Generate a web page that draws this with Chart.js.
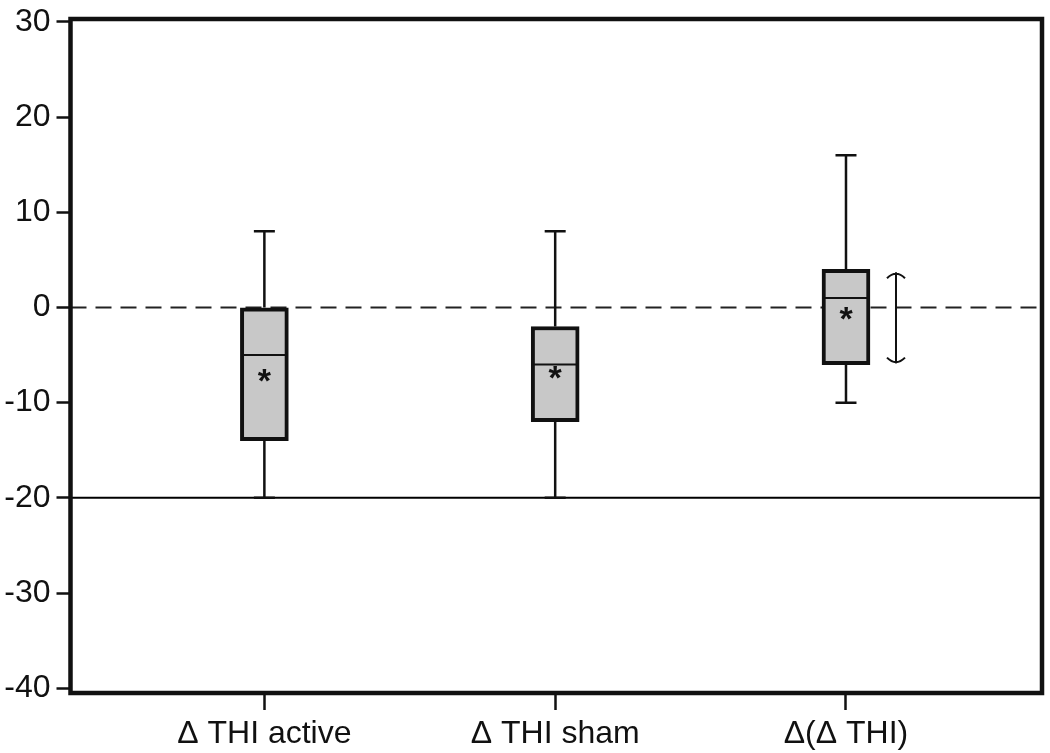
<!DOCTYPE html>
<html><head><meta charset="utf-8">
<script src="https://cdn.jsdelivr.net/npm/chart.js@4"></script>
<style>html,body{margin:0;padding:0;background:#fff}#wrap{width:1050px;height:753px;position:relative}</style>
</head><body><div id="wrap"><canvas id="c"></canvas></div>
<script>
const categories = ['\u0394 THI active', '\u0394 THI sham', '\u0394(\u0394 THI)'];
const positions = [1, 2, 3];
const whiskerLow = [-20, -20, -10];
const q1 = [-14, -12, -6];
const median = [-5, -6, 1];
const q3 = [0, -2, 4];
const whiskerHigh = [8, 8, 16];
const means = [-7.1, -6.8, -0.6];
const ciLow = [null, null, -5.9];
const ciHigh = [null, null, 3.7];
const yTicks = [-40, -30, -20, -10, 0, 10, 20, 30];
const xTicks = [1, 2, 3];
const refDashed = 0;
const refSolid = -20;

const boxPlugin = {
  id: 'boxExtras',
  beforeDatasetsDraw(chart) {
    const {ctx, chartArea: a, scales: {y}} = chart;
    ctx.save();
    ctx.strokeStyle = '#222';
    ctx.lineWidth = 2;
    ctx.setLineDash([16, 9]);
    let py = y.getPixelForValue(refDashed);
    ctx.beginPath(); ctx.moveTo(a.left, py); ctx.lineTo(a.right, py); ctx.stroke();
    ctx.setLineDash([]);
    ctx.strokeStyle = '#000';
    py = y.getPixelForValue(refSolid);
    ctx.beginPath(); ctx.moveTo(a.left, py); ctx.lineTo(a.right, py); ctx.stroke();
    ctx.lineWidth = 2.5;
    ctx.strokeStyle = '#111';
    positions.forEach((p, i) => {
      const px = chart.scales.x.getPixelForValue(p);
      const yl = y.getPixelForValue(whiskerLow[i]), y1 = y.getPixelForValue(q1[i]);
      const yh = y.getPixelForValue(whiskerHigh[i]), y3 = y.getPixelForValue(q3[i]);
      ctx.beginPath();
      ctx.moveTo(px, y1); ctx.lineTo(px, yl);
      ctx.moveTo(px - 10.5, yl); ctx.lineTo(px + 10.5, yl);
      ctx.moveTo(px, y3); ctx.lineTo(px, yh);
      ctx.moveTo(px - 10.5, yh); ctx.lineTo(px + 10.5, yh);
      ctx.stroke();
    });
    ctx.restore();
  },
  afterDatasetsDraw(chart) {
    const {ctx, scales: {x, y}} = chart;
    ctx.save();
    positions.forEach((p, i) => {
      const px = x.getPixelForValue(p);
      const ym = y.getPixelForValue(median[i]);
      ctx.strokeStyle = '#111'; ctx.lineWidth = 2;
      ctx.beginPath(); ctx.moveTo(px - 22, ym); ctx.lineTo(px + 22, ym); ctx.stroke();
      ctx.fillStyle = '#111';
      ctx.font = 'bold 34px "Liberation Sans", Arial, sans-serif';
      ctx.textAlign = 'center';
      ctx.textBaseline = 'alphabetic';
      const m = ctx.measureText('*');
      const yc = y.getPixelForValue(means[i]);
      const off = (m.actualBoundingBoxAscent - m.actualBoundingBoxDescent) / 2;
      ctx.fillText('*', px, yc + off);
      if (ciLow[i] !== null) {
        const cx = px + 50;
        const yt = y.getPixelForValue(ciHigh[i]);
        const yb = y.getPixelForValue(ciLow[i]);
        ctx.lineWidth = 2; ctx.strokeStyle = '#111';
        ctx.beginPath();
        ctx.moveTo(cx, yt); ctx.lineTo(cx, yb);
        ctx.moveTo(cx - 9, yt + 6); ctx.quadraticCurveTo(cx, yt - 3, cx + 9, yt + 6);
        ctx.moveTo(cx - 9, yb - 6); ctx.quadraticCurveTo(cx, yb + 3, cx + 9, yb - 6);
        ctx.stroke();
      }
    });
    ctx.restore();
  },
  afterDraw(chart) {
    const {ctx, chartArea: a} = chart;
    ctx.save();
    ctx.strokeStyle = '#111';
    ctx.lineWidth = 4.5;
    ctx.strokeRect(a.left, a.top, a.right - a.left, a.bottom - a.top);
    ctx.restore();
  }
};

new Chart(document.getElementById('c'), {
  type: 'bar',
  data: {
    datasets: [{
      data: positions.map((p, i) => ({x: p, y: [q1[i], q3[i]]})),
      backgroundColor: '#c8c8c8',
      borderColor: '#111',
      borderWidth: 4,
      borderSkipped: false,
      barThickness: 48
    }]
  },
  options: {
    responsive: true,
    maintainAspectRatio: false,
    animation: false,
    devicePixelRatio: 1,
    layout: {padding: {top: 19, right: 8, left: 0, bottom: 0}},
    plugins: {legend: {display: false}, tooltip: {enabled: false}},
    scales: {
      x: {
        type: 'linear',
        offset: false,
        min: 1 / 3,
        max: 3.674,
        afterBuildTicks: s => { s.ticks = xTicks.map(v => ({value: v})); },
        afterFit: s => { s.height = 60; s.paddingLeft = 0; s.paddingRight = 0; },
        border: {display: false},
        grid: {offset: false, drawOnChartArea: false, drawTicks: true, tickLength: 17, tickColor: '#111', tickWidth: 2.5},
        ticks: {
          color: '#111',
          padding: 5,
          maxRotation: 0,
          autoSkip: false,
          font: {family: '"Liberation Sans", Arial, sans-serif', size: 32},
          callback: v => categories[positions.indexOf(v)] || ''
        }
      },
      y: {
        min: -40.5,
        max: 30.3,
        afterBuildTicks: s => { s.ticks = yTicks.map(v => ({value: v})); },
        afterFit: s => { s.width = 70.5; s.paddingTop = 0; s.paddingBottom = 0; },
        border: {display: false},
        grid: {drawOnChartArea: false, drawTicks: true, tickLength: 14, tickColor: '#111', tickWidth: 2.5},
        ticks: {
          color: '#111',
          padding: 6,
          autoSkip: false,
          font: {family: '"Liberation Sans", Arial, sans-serif', size: 32},
          callback: v => String(v)
        }
      }
    }
  },
  plugins: [boxPlugin]
});
</script>
</body></html>
